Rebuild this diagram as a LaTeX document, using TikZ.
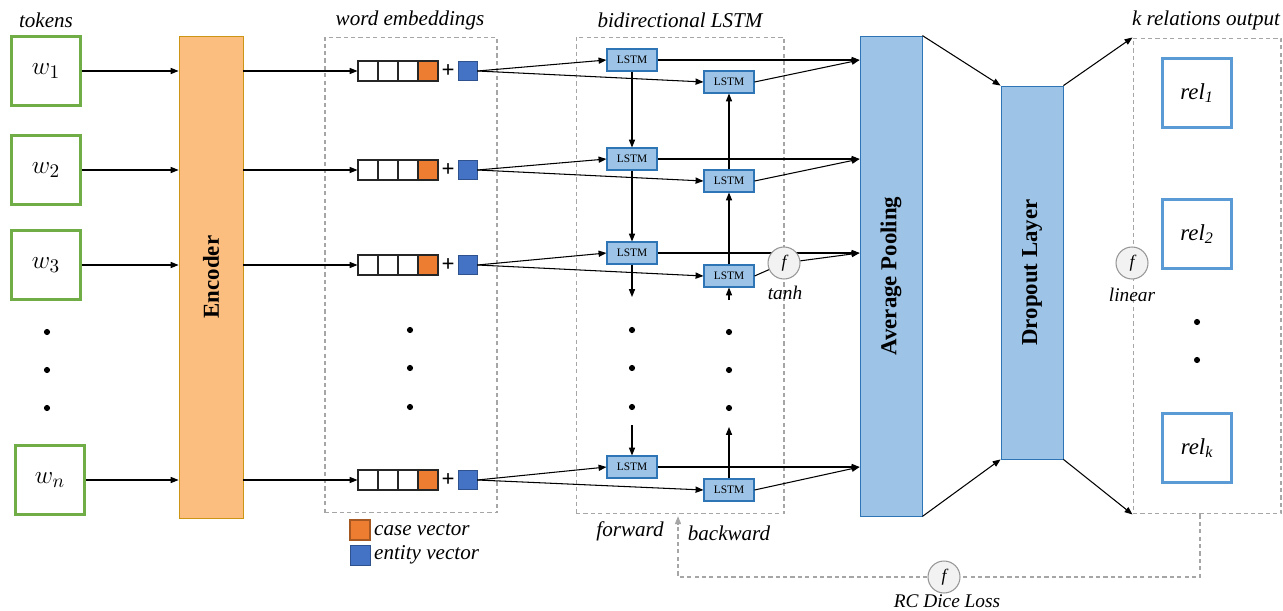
\documentclass[tikz,border=0pt]{standalone}
\usepackage{fontspec}
\setmainfont{Liberation Serif}
\usetikzlibrary{arrows.meta}

\definecolor{tokgreen}{RGB}{112,173,71}
\definecolor{encfill}{RGB}{252,190,126}
\definecolor{encline}{RGB}{204,150,20}
\definecolor{barblue}{RGB}{157,195,230}
\definecolor{barline}{RGB}{46,117,182}
\definecolor{caseor}{RGB}{237,125,49}
\definecolor{entblue}{RGB}{68,114,196}
\definecolor{entline}{RGB}{47,82,143}
\definecolor{relblue}{RGB}{91,155,213}
\definecolor{dashgray}{RGB}{166,166,166}
\definecolor{circgray}{RGB}{150,150,150}
\definecolor{circfill}{RGB}{242,242,242}

\tikzset{
  tok/.style={draw=tokgreen,line width=1.7pt,fill=white,minimum size=1.38cm,inner sep=0pt,font=\fontsize{15}{15}\selectfont},
  bar/.style={draw=barline,fill=barblue,line width=0.5pt,minimum width=1.24cm,inner sep=0pt},
  bartext/.style={font=\bfseries\fontsize{13}{13}\selectfont},
  cell/.style={draw=black!85,line width=0.6pt,minimum size=0.4cm,inner sep=0pt},
  ent/.style={draw=entline,fill=entblue,line width=0.5pt,minimum size=0.38cm,inner sep=0pt},
  lstm/.style={draw=barline,fill=barblue,line width=0.6pt,minimum width=1cm,minimum height=0.44cm,inner sep=0pt,font=\fontsize{6.5}{6.5}\selectfont},
  dashbox/.style={draw=dashgray,dash pattern=on 2.4pt off 1.8pt,line width=0.6pt,inner sep=0pt},
  fcirc/.style={circle,draw=circgray,fill=circfill,line width=0.6pt,minimum size=0.64cm,inner sep=0pt,font=\itshape\fontsize{10}{10}\selectfont},
  lab/.style={font=\itshape\fontsize{12}{12}\selectfont},
  smalllab/.style={font=\itshape\fontsize{11}{11}\selectfont},
  relbox/.style={draw=relblue,line width=1.7pt,fill=white,minimum size=1.38cm,inner sep=0pt,font=\itshape\fontsize{13}{13}\selectfont},
  dot/.style={circle,fill=black,minimum size=3.5pt,inner sep=0pt},
  conn/.style={->,line width=0.6pt},
  lossline/.style={draw=dashgray,dash pattern=on 2.4pt off 1.8pt,line width=0.6pt}
}

\begin{document}
\begin{tikzpicture}[x=0.02cm,y=-0.02cm,>={Triangle[length=4.5pt,width=3.5pt]}]
\useasboundingbox (0,0) rectangle (1283,611);

% column titles
\node[lab] (ttok) at (46,20) {tokens};
\node[lab] (temb) at (410,20) {word embeddings};
\node[lab] (tlstm) at (680,20) {bidirectional LSTM};
\node[lab] (tout) at (1206,20) {k relations output};

% dashed groups
\node[dashbox,minimum width=3.44cm,minimum height=9.52cm] (embbox) at (411,275) {};
\node[dashbox,minimum width=4.16cm,minimum height=9.54cm] (lstmbox) at (680,275.5) {};
\node[dashbox,minimum width=2.96cm,minimum height=9.52cm] (out) at (1207,276) {};

% encoder, pooling and dropout bars
\node[bar,draw=encline,fill=encfill,minimum width=1.28cm,minimum height=9.64cm] (enc) at (211,277) {};
\node[bartext,rotate=90] (enctxt) at (enc) {Encoder};
\node[bar,minimum height=9.6cm] (pool) at (891,276) {};
\node[bartext,rotate=90] (pooltxt) at (pool) {Average Pooling};
\node[bar,minimum height=7.46cm] (drop) at (1032,272.5) {};
\node[bartext,rotate=90] (droptxt) at (drop) {Dropout Layer};

% one row per token
\foreach \r/\tx/\y/\fy/\by in {1/46/71/60/82, 2/46/170/159/181, 3/46/265/253/276, n/50/480/467/490}{
    \node[tok] (w\r) at (\tx,\y) {$w_{\r}$};
    \draw[conn] (w\r.east) -- (w\r.east -| enc.west);
    \node[cell] (c\r-1) at (368,\y) {};
    \node[cell] (c\r-2) at (388,\y) {};
    \node[cell] (c\r-3) at (408,\y) {};
    \node[cell,fill=caseor] (c\r-4) at (428,\y) {};
    \node[font=\bfseries\fontsize{13}{13}\selectfont] (p\r) at (448,\y) {+};
    \node[ent] (e\r) at (467.5,\y) {};
    \draw[conn] (enc.east |- c\r-1.west) -- (c\r-1.west);
    \node[lstm] (f\r) at (632,\fy) {LSTM};
    \node[lstm] (b\r) at (729,\by) {LSTM};
    \draw[conn] (e\r.east) -- (f\r.west);
    \draw[conn] (e\r.east) -- (b\r.west);
    \draw[conn] (f\r.east) -- (f\r.east -| pool.west);
}
\foreach \r in {1,2,n}
    \draw[conn] (b\r.east) -- (f\r.east -| pool.west);

% tanh on the third row
\node[fcirc] (th) at (784,263) {f};
\node[smalllab] (thlab) at (785,293) {tanh};
\draw[line width=0.6pt] (b3.east) -- (th);
\draw[conn] (th) -- (f3.east -| pool.west);

% forward and backward chains
\coordinate (fa) at (632,297);
\coordinate (fb) at (632,425);
\coordinate (ba) at (729,300);
\coordinate (bb) at (729,427);
\draw[conn] (f1.south) -- (f2.north);
\draw[conn] (f2.south) -- (f3.north);
\draw[conn] (f3.south) -- (fa);
\draw[conn] (fb) -- (fn.north);
\draw[conn] (bn.north) -- (bb);
\draw[conn] (ba) -- (b3.south);
\draw[conn] (b3.north) -- (b2.south);
\draw[conn] (b2.north) -- (b1.south);

% dots
\foreach \px/\py [count=\i] in {47/332, 47/370, 47/408, 410/330, 410/368, 410/407,
    632/330, 632/368, 632/407, 729/332, 729/370, 729/408, 1197/322, 1197/360}
    \node[dot] (d\i) at (\px,\py) {};

\node[fcirc] (lin) at (1132,263) {f};
\node[smalllab] (linlab) at (1132,295) {linear};

% relation outputs
\node[relbox] (r1) at (1197,93) {rel\textsubscript{1}};
\node[relbox] (r2) at (1197,234) {rel\textsubscript{2}};
\node[relbox] (rk) at (1197,448) {rel\textsubscript{k}};

% bars to bars
\draw[conn] (pool.north east) -- (drop.north west);
\draw[conn] (pool.south east) -- (drop.south west);
\draw[conn] (drop.north east) -- (out.north west);
\draw[conn] (drop.south east) -- (out.south west);

% legend
\node[cell,draw=caseor!70!black,fill=caseor] (lcase) at (360,530) {};
\node[lab,anchor=west] (lcasetxt) at (368,530) {case vector};
\node[ent,minimum size=0.4cm] (lent) at (360,555) {};
\node[lab,anchor=west] (lenttxt) at (368,555) {entity vector};

\node[lab] (fwd) at (630,531) {forward};
\node[lab] (bwd) at (729,533) {backward};

% loss loop
\coordinate (lr) at (1200,577);
\coordinate (ll) at (678,577);
\node[fcirc] (loss) at (944,577) {f};
\node[smalllab] (losslab) at (947,601) {RC Dice Loss};
\draw[lossline] (out.south -| lr) -- (lr) -- (loss);
\draw[lossline,->] (loss) -- (ll) -- ([yshift=-1pt]lstmbox.south -| ll);
\end{tikzpicture}
\end{document}
